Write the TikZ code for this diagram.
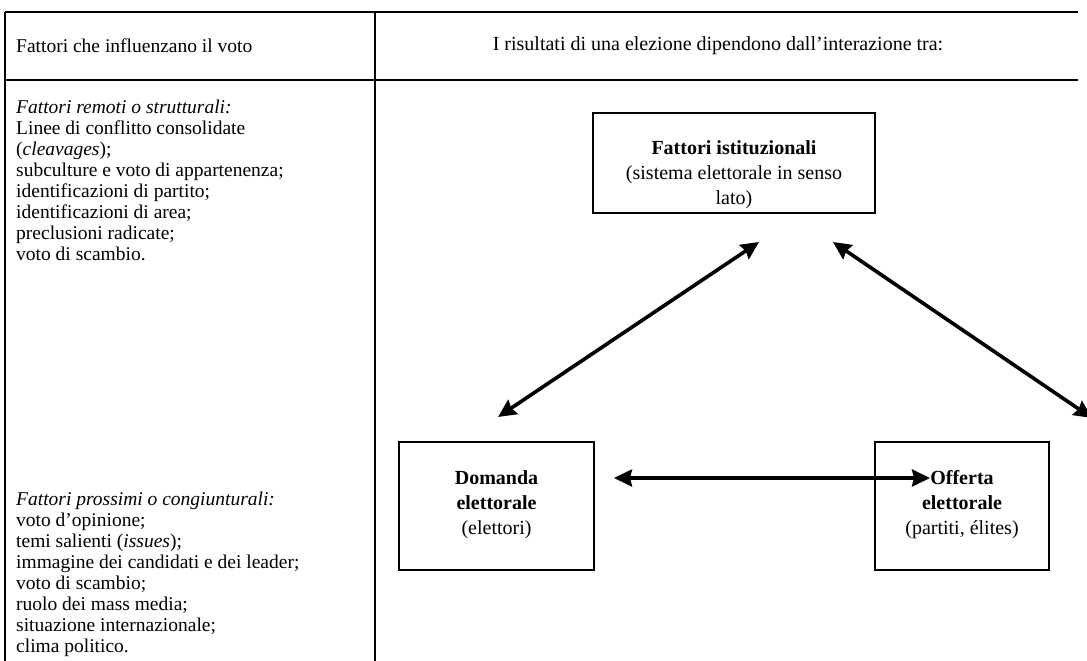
\documentclass[tikz,border=0pt]{standalone}
\usepackage{fontspec}
\setmainfont{Liberation Serif}
\usetikzlibrary{arrows.meta}
\begin{document}
\begin{tikzpicture}[x=1pt,y=-1pt,
  tline/.style={line width=2pt},
  box/.style={draw, line width=2pt, inner sep=0pt},
  txt/.style={inner sep=0pt, align=left, font=\fontsize{19.5}{21}\selectfont},
  ctxt/.style={inner sep=0pt, align=center, font=\fontsize{20}{25}\selectfont},
  arr/.style={line width=3.6pt, {Stealth[length=18pt,width=17pt,inset=2pt]}-{Stealth[length=18pt,width=17pt,inset=2pt]}}
]
\useasboundingbox (0,0) rectangle (1087,661);
% table rules
\coordinate (tl) at (5,12);
\coordinate (tr) at (1078,12);
\coordinate (ml) at (5,80);
\coordinate (mr) at (1078,80);
\coordinate (bl) at (5,665);
\coordinate (dt) at (375,12);
\coordinate (db) at (375,665);
\draw[tline] (tl) -- (tr);
\draw[tline] (ml) -- (mr);
\draw[tline] (tl) -- (bl);
\draw[tline] (dt) -- (db);
% header
\node[txt, anchor=west] (h1) at (16,46) {Fattori che influenzano il voto};
\node[ctxt] (h2) at (718,46) {I risultati di una elezione dipendono dall’interazione tra:};
% left column
\node[txt, anchor=north west] (remoti) at (16,100) {\textit{Fattori remoti o strutturali:}\\ Linee di conflitto consolidate\\ (\textit{cleavages});\\ subculture e voto di appartenenza;\\ identificazioni di partito;\\ identificazioni di area;\\ preclusioni radicate;\\ voto di scambio.};
\node[txt, anchor=south west] (prossimi) at (16,657) {\textit{Fattori prossimi o congiunturali:}\\ voto d’opinione;\\ temi salienti (\textit{issues});\\ immagine dei candidati e dei leader;\\ voto di scambio;\\ ruolo dei mass media;\\ situazione internazionale;\\ clima politico.};
% boxes
\node[box, minimum width=282pt, minimum height=100pt] (fi) at (734,163) {};
\node[ctxt] (fit) at (734,175) {\textbf{Fattori istituzionali}\\(sistema elettorale in senso\\lato)};
\node[box, minimum width=195pt, minimum height=128pt] (dom) at (496.5,506) {};
\node[ctxt] (domt) at (496.5,505) {\textbf{Domanda}\\\textbf{elettorale}\\(elettori)};
\node[box, minimum width=174pt, minimum height=128pt] (off) at (962,506) {};
\node[ctxt] (offt) at (962,505) {\textbf{Offerta}\\\textbf{elettorale}\\(partiti, élites)};
% arrows
\coordinate (a1) at (614,478);
\coordinate (a2) at (930,478);
\coordinate (b1) at (498,417);
\coordinate (b2) at (759,242);
\coordinate (c1) at (833,242);
\coordinate (c2) at (1092,418);
\draw[arr] (a1) -- (a2);
\draw[arr] (b1) -- (b2);
\draw[arr] (c1) -- (c2);
\end{tikzpicture}
\end{document}
